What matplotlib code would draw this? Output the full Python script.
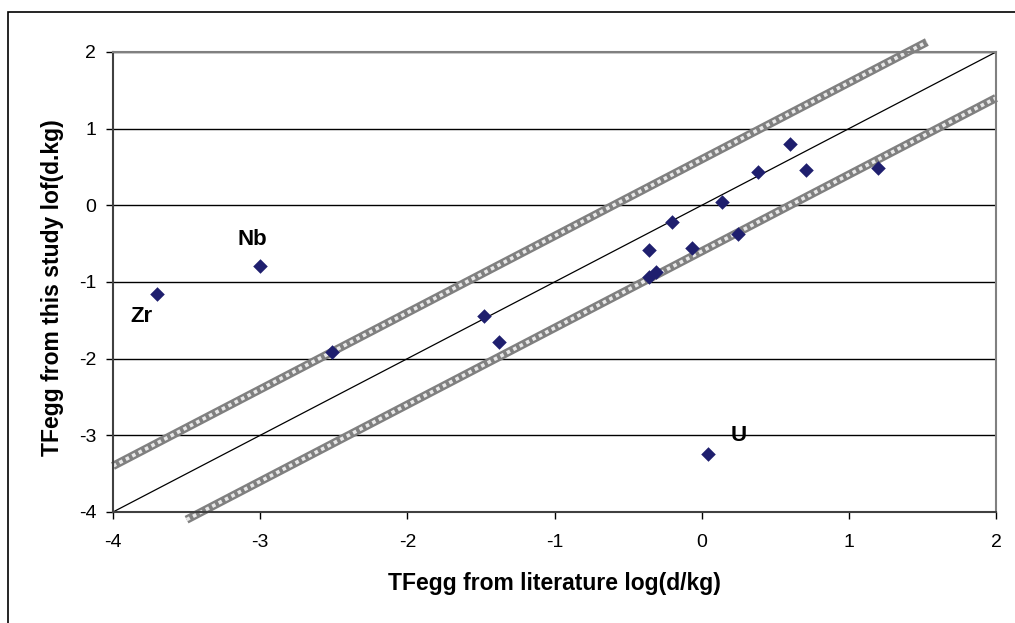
import matplotlib
matplotlib.use("Agg")
import matplotlib.pyplot as plt
import matplotlib.patches as mpatches

plt.rcParams['font.family'] = ['Liberation Sans', 'DejaVu Sans']

# data
lit_x = [-3.70, -3.00, -2.51, -1.48, -1.38, -0.36, -0.36, -0.31, -0.20, -0.065,
         0.14, 0.25, 0.38, 0.60, 0.71, 1.20, 0.04]
study_y = [-1.16, -0.79, -1.91, -1.44, -1.78, -0.58, -0.94, -0.87, -0.22, -0.56,
           0.04, -0.37, 0.43, 0.80, 0.46, 0.49, -3.24]
label_names = ["Zr", "Nb", "U"]
label_x = [-3.81, -3.05, 0.25]
label_y = [-1.45, -0.45, -3.0]

one_to_one_x = [-4, 2]
one_to_one_y = [-4, 2]
upper_x = [-4, 1.53]
upper_y = [-3.4, 2.13]
lower_x = [-3.5, 2.0]
lower_y = [-4.1, 1.4]

xticks = [-4, -3, -2, -1, 0, 1, 2]
yticks = [-4, -3, -2, -1, 0, 1, 2]

fig = plt.figure(figsize=(10.15, 6.23), dpi=100)
ax = fig.add_axes([113/1015, 1-512/623, (996-113)/1015, (512-52)/623])

# outer border (right and bottom edges fall outside the image)
fig.patches.append(mpatches.Rectangle((8/1015, -0.05), 1.2, 1 - 12/623 + 0.05,
                                      transform=fig.transFigure, fill=False,
                                      edgecolor='black', linewidth=1.2))

ax.set_xlim(-4, 2)
ax.set_ylim(-4, 2)
for yv in yticks:
    ax.axhline(yv, color='black', linewidth=1.0, zorder=1)

ax.plot(one_to_one_x, one_to_one_y, color='black', linewidth=0.9, zorder=2)
for bx, by in [(upper_x, upper_y), (lower_x, lower_y)]:
    ax.plot(bx, by, color='#808080', linewidth=6, solid_capstyle='butt', zorder=2, clip_on=False)
    ax.plot(bx, by, color='#e8e8e8', linewidth=2.6, dashes=(1, 1), solid_capstyle='butt',
            zorder=2, clip_on=False)

ax.scatter(lit_x, study_y, marker='D', s=55, color='#1f1f6e', zorder=4, linewidths=0)
for name, tx, ty in zip(label_names, label_x, label_y):
    ax.text(tx, ty, name, fontsize=16, fontweight='bold', ha='center', va='center')

ax.set_xticks(xticks)
ax.set_yticks(yticks)
ax.set_xticklabels([f"{v:d}" for v in xticks])
ax.set_yticklabels([f"{v:d}" for v in yticks])
ax.tick_params(axis='both', labelsize=14, length=5, width=1, direction='out')
ax.tick_params(axis='x', pad=11)
ax.tick_params(axis='y', pad=7)

for s in ['top', 'right']:
    ax.spines[s].set_color('#808080')
    ax.spines[s].set_linewidth(1.5)
for s in ['left', 'bottom']:
    ax.spines[s].set_color('#404040')
    ax.spines[s].set_linewidth(1.5)

ax.set_xlabel("TFegg from literature log(d/kg)", fontsize=16.5, fontweight='bold')
ax.set_ylabel("TFegg from this study lof(d.kg)", fontsize=16.5, fontweight='bold')
ax.xaxis.set_label_coords(0.5, -0.131)
ax.yaxis.set_label_coords(-0.0555, 0.487)

fig.savefig("out.png", dpi=100)
